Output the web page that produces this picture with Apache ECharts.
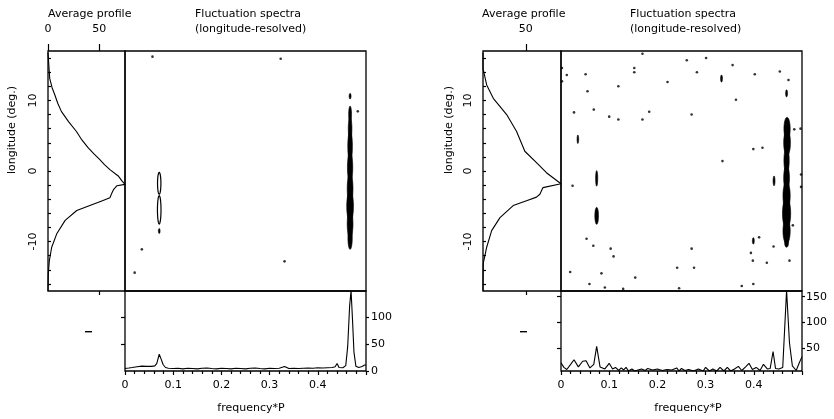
<!DOCTYPE html>
<html><head><meta charset="utf-8">
<script src="https://cdn.jsdelivr.net/npm/echarts@6/dist/echarts.min.js"></script>
<style>html,body{margin:0;padding:0;background:#fff}#c{width:834px;height:419px}</style>
</head><body><div id="c"></div>
<script>
// ---------- Left figure (A) ----------
const profLonA = [16.8, 15.0, 13.1, 11.8, 10.8, 9.6, 8.45, 7.0, 5.6, 4.4, 3.3, 2.4, 1.6, 0.9, 0.2, -0.7, -1.4, -1.9, -2.1, -2.6, -3.2, -3.8, -4.2, -4.7, -5.6, -7.0, -8.9, -10.8, -12.7, -14.6, -17];
const profValA = [0, 0.8, 1.7, 4.0, 6.6, 9.5, 13, 20, 27.7, 33, 39, 45, 50.5, 55, 60.3, 68.4, 72, 75, 67, 64, 62, 60.3, 53, 44, 28, 16.7, 8.5, 3.6, 1.3, 0.3, 0];

const specFreqA = [0, 0.008, 0.015, 0.025, 0.035, 0.045, 0.055, 0.062, 0.066, 0.071, 0.075, 0.079, 0.084, 0.09, 0.1, 0.11, 0.12, 0.13, 0.14, 0.15, 0.16, 0.17, 0.18, 0.19, 0.2, 0.21, 0.22, 0.23, 0.24, 0.25, 0.26, 0.27, 0.28, 0.29, 0.3, 0.31, 0.32, 0.331, 0.34, 0.35, 0.36, 0.37, 0.38, 0.39, 0.4, 0.41, 0.42, 0.43, 0.436, 0.44, 0.444, 0.452, 0.458, 0.462, 0.466, 0.469, 0.472, 0.475, 0.479, 0.485, 0.492, 0.497, 0.5];
const specValA  = [4.5, 5.5, 6.5, 8, 9, 8.5, 8.5, 9.5, 14, 31, 22, 12, 6.5, 5, 4.5, 5, 4, 5, 4.5, 4, 5, 5.5, 4.5, 4, 5, 4.5, 4, 5, 4.5, 4, 5, 5.5, 4.5, 4, 5, 4.5, 5, 8.5, 4.5, 5, 4.5, 5, 5.5, 5, 6, 5.5, 6, 6.5, 8, 14, 6.5, 6, 10, 45, 120, 149, 95, 35, 9, 6.5, 8.5, 11, 11];

// contour blobs: frequency, longitude, half-width (freq), half-length (lon), filled
const blobFreqA = [0.071, 0.071, 0.071, 0.467, 0.467, 0.467, 0.467, 0.467, 0.467, 0.467, 0.467, 0.467];
const blobLonA  = [-1.75, -5.5, -8.5, 10.6, 8.0, 6.0, 3.5, 0.5, -2.5, -5.0, -7.5, -9.5];
const blobFwA   = [0.0035, 0.0037, 0.0018, 0.002, 0.003, 0.0038, 0.0048, 0.0055, 0.006, 0.007, 0.006, 0.0045];
const blobLwA   = [1.55, 2.0, 0.35, 0.4, 1.2, 1.6, 2.2, 2.2, 2.2, 2.2, 2.0, 1.6];
const blobFillA = [0, 0, 1, 1, 1, 1, 1, 1, 1, 1, 1, 1];

const dotFreqA = [0.057, 0.323, 0.02, 0.331, 0.035, 0.483];
const dotLonA  = [16.2, 15.9, -14.4, -12.8, -11.1, 8.45];

// ---------- Right figure (B) ----------
const profLonB = [16.8, 14.5, 12.2, 10.3, 8.0, 5.6, 2.8, 1.2, -0.24, -1.8, -2.35, -3.3, -3.7, -4.2, -4.9, -6.6, -8.45, -10.8, -13.1, -16, -17];
const profValB = [0, 0, 4.3, 12, 27.6, 39.2, 48.8, 62.4, 74, 91, 70, 66.3, 62.4, 50.8, 35.2, 19.8, 10.1, 4.3, 0.3, 0, 0];

const specFreqB = [0, 0.006, 0.012, 0.02, 0.027, 0.036, 0.045, 0.052, 0.06, 0.068, 0.074, 0.081, 0.091, 0.1, 0.107, 0.113, 0.12, 0.125, 0.13, 0.135, 0.14, 0.147, 0.153, 0.16, 0.167, 0.175, 0.18, 0.19, 0.2, 0.21, 0.22, 0.23, 0.24, 0.245, 0.25, 0.257, 0.265, 0.275, 0.285, 0.295, 0.3, 0.308, 0.315, 0.323, 0.33, 0.338, 0.345, 0.352, 0.36, 0.368, 0.375, 0.383, 0.39, 0.397, 0.405, 0.413, 0.42, 0.428, 0.434, 0.44, 0.445, 0.452, 0.46, 0.468, 0.474, 0.48, 0.488, 0.494, 0.5];
const specValB  = [21, 12, 8, 18, 27, 13, 24, 25, 11, 18, 53, 13, 9, 20, 9, 12, 6, 11, 7, 12, 5, 9, 5, 7, 9, 6, 10, 7, 9, 6, 8, 7, 11, 5, 10, 6, 8, 5, 9, 5, 12, 5, 9, 5, 12, 5, 12, 5, 9, 14, 6, 13, 20, 8, 12, 6, 18, 9, 10, 43, 10, 9, 12, 162, 60, 15, 6, 20, 33];

const blobFreqB = [0.074, 0.074, 0.442, 0.035, 0.468, 0.469, 0.469, 0.468, 0.468, 0.468, 0.468, 0.468, 0.468, 0.333, 0.399];
const blobLonB  = [-1.05, -6.35, -1.4, 4.5, 11.0, 6.0, 4.0, 1.5, -1.0, -3.5, -6.0, -8.5, -10.2, 13.1, -9.9];
const blobFwB   = [0.0022, 0.0038, 0.002, 0.0015, 0.002, 0.0065, 0.007, 0.0055, 0.006, 0.0075, 0.0085, 0.0075, 0.004, 0.002, 0.002];
const blobLwB   = [1.1, 1.2, 0.7, 0.6, 0.5, 1.6, 1.8, 1.8, 1.8, 2.0, 2.2, 1.8, 0.6, 0.5, 0.45];
const blobFillB = [1, 1, 1, 1, 1, 1, 1, 1, 1, 1, 1, 1, 1, 1, 1];

const dotFreqB = [0.002, 0.002, 0.012, 0.051, 0.055, 0.068, 0.027, 0.1, 0.119, 0.119, 0.152, 0.152, 0.183, 0.169, 0.169, 0.221, 0.271, 0.261, 0.282, 0.301, 0.335, 0.363, 0.356, 0.402, 0.454, 0.472, 0.484, 0.497, 0.498, 0.498, 0.418, 0.399, 0.481, 0.411, 0.441, 0.394, 0.398, 0.427, 0.474, 0.375, 0.399, 0.271, 0.241, 0.276, 0.154, 0.103, 0.109, 0.067, 0.053, 0.084, 0.019, 0.059, 0.129, 0.245, 0.024, 0.091];
const dotLonB  = [14.6, 12.7, 13.6, 13.7, 11.3, 8.7, 8.3, 7.7, 12.0, 7.3, 14.6, 14.0, 8.4, 7.3, 16.6, 12.6, 8.0, 15.7, 14.0, 16.0, 1.4, 10.1, 15.0, 13.7, 14.1, 12.9, 5.9, 6.0, -0.5, -2.25, 3.3, 3.1, -7.7, -9.4, -10.7, -11.6, -12.7, -13.0, -12.7, -16.3, -16.0, -11.0, -13.7, -13.7, -15.1, -11.0, -12.1, -10.6, -9.6, -14.5, -14.3, -16.0, -16.7, -16.6, -2.1, -16.5];

// ---------- helpers ----------
const FONT = 'DejaVu Sans';
const TXT = { color: '#000', fontFamily: FONT, fontSize: 11 };
const LS = { color: '#000', width: 1.2 };
const zip = (a, b) => a.map((v, i) => [v, b[i]]);
const blobs = (f, l, fw, lw, fi) => f.map((v, i) => [v, l[i], fw[i], lw[i], fi[i]]);
const lonTicks = []; for (let v = -16; v <= 16; v += 2) lonTicks.push(v);

function ellipseItem(params, api) {
  const c = api.coord([api.value(0), api.value(1)]);
  const sz = api.size([api.value(2), api.value(3)]);
  const rx = Math.max(sz[0], 0.8), ry = Math.max(sz[1], 0.8);
  const pts = [];
  for (let i = 0; i < 40; i++) {
    const a = i / 40 * Math.PI * 2;
    pts.push([c[0] + rx * Math.cos(a), c[1] + ry * Math.sin(a)]);
  }
  const filled = api.value(4) === 1;
  return { type: 'polygon', shape: { points: pts },
    style: filled ? { fill: '#000', stroke: '#000', lineWidth: 0.6 } : { fill: 'none', stroke: '#000', lineWidth: 1.2 } };
}

function layout(pl, pw, cl, cw) {
  const top = 51, h = 240, sh = 80;
  return [
    { left: pl, top: top, width: pw, height: h },
    { left: cl, top: top, width: cw, height: h },
    { left: cl, top: top + h, width: cw, height: sh }
  ];
}
const gridStyle = { show: true, borderColor: '#000', borderWidth: 1.3, backgroundColor: 'transparent' };
const grids = layout(48, 77, 125, 241).concat(layout(483, 78, 561, 241)).map(g => Object.assign({}, gridStyle, g));

const noLine = { show: false, onZero: false };
function xAxesFor(g0, profMax, profLabels) {
  return [
    { gridIndex: g0, type: 'value', position: 'top', min: 0, max: profMax, axisLine: noLine, splitLine: { show: false },
      axisTick: { customValues: profLabels, length: 7, lineStyle: LS }, axisLabel: Object.assign({ customValues: profLabels, margin: 16 }, TXT) },
    { gridIndex: g0, type: 'value', position: 'bottom', min: 0, max: profMax, axisLine: noLine, splitLine: { show: false },
      axisTick: { customValues: [50], length: 4, lineStyle: LS }, axisLabel: { show: false } },
    { gridIndex: g0 + 1, type: 'value', min: 0, max: 0.5, show: false, axisLine: noLine },
    { gridIndex: g0 + 2, type: 'value', position: 'bottom', min: 0, max: 0.5, interval: 0.1, axisLine: noLine, splitLine: { show: false },
      axisTick: { length: 4, lineStyle: LS }, minorTick: { show: true, splitNumber: 5, length: 3, lineStyle: LS },
      axisLabel: Object.assign({ customValues: [0, 0.1, 0.2, 0.3, 0.4], margin: 9 }, TXT) }
  ];
}
function yAxesFor(g0, sMin, sMax, sLabels, sTicks, sMargin) {
  return [
    { gridIndex: g0, type: 'value', min: -17, max: 17, axisLine: noLine, splitLine: { show: false },
      axisTick: { inside: true, customValues: lonTicks, length: 3, lineStyle: LS },
      axisLabel: Object.assign({ customValues: [-10, 0, 10], rotate: 90, margin: 9 }, TXT) },
    { gridIndex: g0 + 1, type: 'value', min: -17, max: 17, show: false, axisLine: noLine },
    { gridIndex: g0 + 2, type: 'value', position: 'right', min: sMin, max: sMax, axisLine: noLine, splitLine: { show: false },
      axisTick: { customValues: sLabels, length: 3, lineStyle: LS }, axisLabel: Object.assign({ customValues: sLabels, margin: sMargin }, TXT) },
    { gridIndex: g0 + 2, type: 'value', position: 'left', min: sMin, max: sMax, axisLine: noLine, splitLine: { show: false },
      axisTick: { customValues: sTicks, length: 4, lineStyle: LS }, axisLabel: { show: false } }
  ];
}

const xAxes = xAxesFor(0, 75, [0, 50]).concat(xAxesFor(3, 91, [50]));
const yAxes = yAxesFor(0, 0, 148, [0, 50, 100], [50, 100], 5).concat(yAxesFor(3, 5, 161, [50, 100, 150], [50, 100, 150], 4));

function seriesFor(xo, yo, profV, profL, bl, dF, dL, sF, sV) {
  return [
    { type: 'line', xAxisIndex: xo, yAxisIndex: yo, data: zip(profV, profL), showSymbol: false, symbol: 'none', lineStyle: { color: '#000', width: 1.1 }, clip: true },
    { type: 'custom', xAxisIndex: xo + 2, yAxisIndex: yo + 1, data: bl, renderItem: ellipseItem, encode: { x: 0, y: 1 }, clip: true },
    { type: 'scatter', xAxisIndex: xo + 2, yAxisIndex: yo + 1, data: zip(dF, dL), symbol: 'circle', symbolSize: 2.6, itemStyle: { color: '#000' } },
    { type: 'line', xAxisIndex: xo + 3, yAxisIndex: yo + 2, data: zip(sF, sV), showSymbol: false, symbol: 'none', lineStyle: { color: '#000', width: 1.1 }, clip: true }
  ];
}
const series = seriesFor(0, 0, profValA, profLonA, blobs(blobFreqA, blobLonA, blobFwA, blobLwA, blobFillA), dotFreqA, dotLonA, specFreqA, specValA)
  .concat(seriesFor(4, 4, profValB, profLonB, blobs(blobFreqB, blobLonB, blobFwB, blobLwB, blobFillB), dotFreqB, dotLonB, specFreqB, specValB));

function textEl(t, x, y, opts) {
  return { type: 'text', x: x, y: y, style: Object.assign({ text: t, fill: '#000', font: '11px "' + FONT + '"', textAlign: 'left', textVerticalAlign: 'middle' }, opts || {}) };
}
const graphics = [
  textEl('Average profile', 48, 14),
  textEl('Fluctuation spectra', 195, 14),
  textEl('(longitude-resolved)', 195, 29),
  textEl('Average profile', 482, 14),
  textEl('Fluctuation spectra', 630, 14),
  textEl('(longitude-resolved)', 630, 29),
  { type: 'text', x: 12, y: 130, rotation: Math.PI / 2, style: { text: 'longitude (deg.)', fill: '#000', font: '11px "' + FONT + '"', textAlign: 'center', textVerticalAlign: 'middle' } },
  { type: 'text', x: 449, y: 130, rotation: Math.PI / 2, style: { text: 'longitude (deg.)', fill: '#000', font: '11px "' + FONT + '"', textAlign: 'center', textVerticalAlign: 'middle' } },
  textEl('frequency*P', 251, 408, { textAlign: 'center' }),
  textEl('frequency*P', 688, 408, { textAlign: 'center' }),
  { type: 'rect', shape: { x: 85, y: 331, width: 7, height: 1.4 }, style: { fill: '#000' } },
  { type: 'rect', shape: { x: 520, y: 331, width: 7, height: 1.4 }, style: { fill: '#000' } }
];

const chart = echarts.init(document.getElementById('c'), null, { renderer: 'canvas' });
chart.setOption({
  animation: false,
  backgroundColor: '#fff',
  grid: grids,
  xAxis: xAxes,
  yAxis: yAxes,
  series: series,
  graphic: graphics
});
</script>
</body></html>
